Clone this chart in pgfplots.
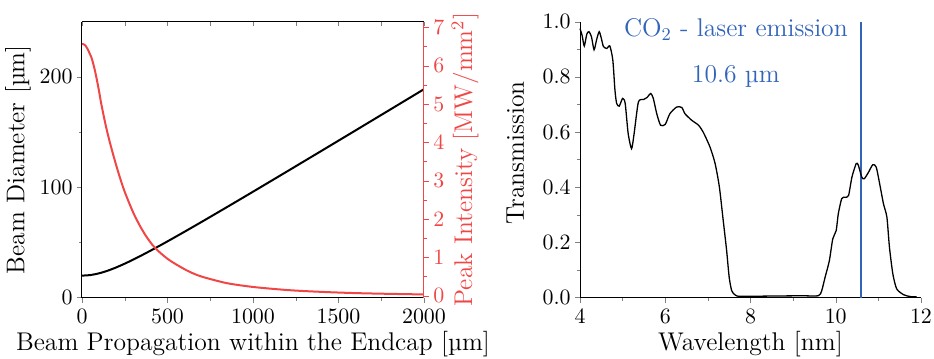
\documentclass[border=0pt]{standalone}
\usepackage{fontspec}
\usepackage{pgfplots}
\pgfplotsset{compat=1.18}
\definecolor{myred}{RGB}{240,70,70}
\definecolor{myblue}{RGB}{50,100,185}
\begin{document}
\begin{tikzpicture}
\pgfplotsset{
  every axis/.append style={
    scale only axis, width=171pt, height=138pt, anchor=south west,
    tick label style={font=\fontsize{11.2}{13}\selectfont},
    label style={font=\fontsize{12.8}{15}\selectfont},
    major tick length=2.5pt, minor tick length=1.6pt,
    tick align=outside,
    /pgf/number format/1000 sep={},
    scaled ticks=false,
    axis line style={line width=0.5pt},
    yticklabel style={inner sep=2pt},
  }
}
% ---------- left panel: beam diameter ----------
\begin{axis}[at={(41pt,30.65pt)},
  xmin=0, xmax=2000, ymin=0, ymax=250,
  axis x line*=bottom, axis y line*=left,
  xtick={0,500,1000,1500,2000}, ytick={0,100,200},
  minor x tick num=1, minor y tick num=1,
  xlabel={Beam Propagation within the Endcap [µm]},
  ylabel={Beam Diameter [µm]},
  xlabel style={at={(axis description cs:0.5,-0.167)}, anchor=center},
  ylabel style={at={(axis description cs:-0.187,0.5)}, anchor=center},
]
\addplot[black, line width=1pt, smooth] coordinates {
(0,20.0) (50,20.54) (100,22.09) (150,24.46) (200,27.43) (250,30.84)
(300,34.55) (350,38.47) (400,42.55) (450,46.75) (500,51.03) (600,59.78)
(700,68.70) (800,77.74) (900,86.84) (1000,96.00) (1200,114.44)
(1400,132.97) (1600,151.56) (1800,170.19) (2000,188.86)
};
\end{axis}
% ---------- top ticks ----------
\begin{axis}[at={(41pt,30.65pt)},
  xmin=0, xmax=2000, ymin=0, ymax=1,
  axis x line*=top, hide y axis,
  xtick={0,500,1000,1500,2000}, minor x tick num=1,
  xticklabels={}, tick align=inside,
  major tick length=2pt, minor tick length=2pt,
]
\addplot[draw=none] coordinates {(0,0)};
\end{axis}
% ---------- left panel: peak intensity (right axis) ----------
\begin{axis}[at={(41pt,30.65pt)},
  xmin=0, xmax=2000, ymin=-0.05, ymax=7.15,
  axis y line*=right, hide x axis,
  ytick={0,1,2,3,4,5,6,7}, minor y tick num=1,
  axis line style={myred, line width=0.5pt},
  y tick style={myred},
  yticklabel style={myred},
  ylabel={Peak Intensity [MW/mm\textsuperscript{2}]},
  ylabel style={myred, at={(axis description cs:1.12,0.5)}, anchor=center},
]
\addplot[myred, line width=1pt, smooth] coordinates {
(0,6.57) (15,6.55) (30,6.46) (45,6.32) (55,6.22) (70,5.98) (84,5.70)
(100,5.33) (113,5.00) (142,4.38) (172,3.85) (211,3.24) (250,2.71)
(308,2.09) (367,1.61) (425,1.26) (503,0.955) (581,0.74) (632,0.62)
(700,0.50) (826,0.35) (900,0.29) (1021,0.22) (1216,0.145) (1411,0.10)
(1600,0.07) (1801,0.05) (2000,0.035)
};
\end{axis}
% ---------- right panel: transmission ----------
\begin{axis}[at={(290pt,30.65pt)}, width=170.5pt,
  xmin=4, xmax=12, ymin=0, ymax=1,
  axis x line*=bottom, axis y line*=left,
  xtick={4,6,8,10,12}, minor x tick num=1,
  ytick={0,0.2,0.4,0.6,0.8,1}, minor y tick num=1,
  y tick label style={/pgf/number format/.cd, fixed, fixed zerofill, precision=1, /tikz/.cd},
  xlabel={Wavelength [nm]},
  ylabel={Transmission},
  xlabel style={at={(axis description cs:0.5,-0.167)}, anchor=center},
  ylabel style={at={(axis description cs:-0.19,0.525)}, anchor=center},
  clip=false,
]
\addplot[draw=myblue, line width=1pt] coordinates {(10.6,0) (10.6,1)};
\addplot[black, line width=0.65pt, smooth, tension=0.4] coordinates {
(4.00,0.975) (4.05,0.950) (4.10,0.912) (4.16,0.955) (4.21,0.964)
(4.27,0.945) (4.33,0.898) (4.39,0.935) (4.45,0.964) (4.50,0.940)
(4.55,0.910) (4.63,0.903) (4.70,0.912) (4.77,0.861) (4.82,0.752)
(4.86,0.704) (4.92,0.694) (5.00,0.722) (5.06,0.704) (5.13,0.595)
(5.21,0.540) (5.27,0.595) (5.37,0.709) (5.49,0.718) (5.57,0.725)
(5.66,0.740) (5.72,0.722) (5.80,0.667) (5.89,0.625) (6.00,0.628)
(6.11,0.667) (6.27,0.691) (6.39,0.689) (6.46,0.667) (6.62,0.643)
(6.78,0.625) (6.89,0.600) (7.05,0.546) (7.17,0.486) (7.27,0.401)
(7.36,0.280) (7.44,0.171) (7.50,0.074) (7.56,0.025) (7.64,0.010)
(7.76,0.005) (8.50,0.006) (9.20,0.007) (9.59,0.007) (9.67,0.025)
(9.75,0.074) (9.85,0.134) (9.93,0.213) (10.01,0.243) (10.06,0.304)
(10.14,0.359) (10.22,0.364) (10.30,0.370) (10.38,0.437) (10.48,0.486)
(10.53,0.480) (10.61,0.437) (10.67,0.431) (10.77,0.455) (10.87,0.482)
(10.95,0.473) (11.03,0.413) (11.12,0.340) (11.20,0.292) (11.26,0.183)
(11.34,0.086) (11.43,0.032) (11.59,0.011) (11.75,0.004) (11.90,0.003)
};
\node[myblue, anchor=base, font=\fontsize{12.8}{15}\selectfont] at (axis cs:7.657,0.9455) {CO\textsubscript{2} - laser emission};
\node[myblue, anchor=base, font=\fontsize{12.8}{15}\selectfont] at (axis cs:7.657,0.778) {10.6 µm};
\end{axis}
\pgfresetboundingbox
\path (0pt,0pt) rectangle (467pt,179.5pt);
\end{tikzpicture}
\end{document}
